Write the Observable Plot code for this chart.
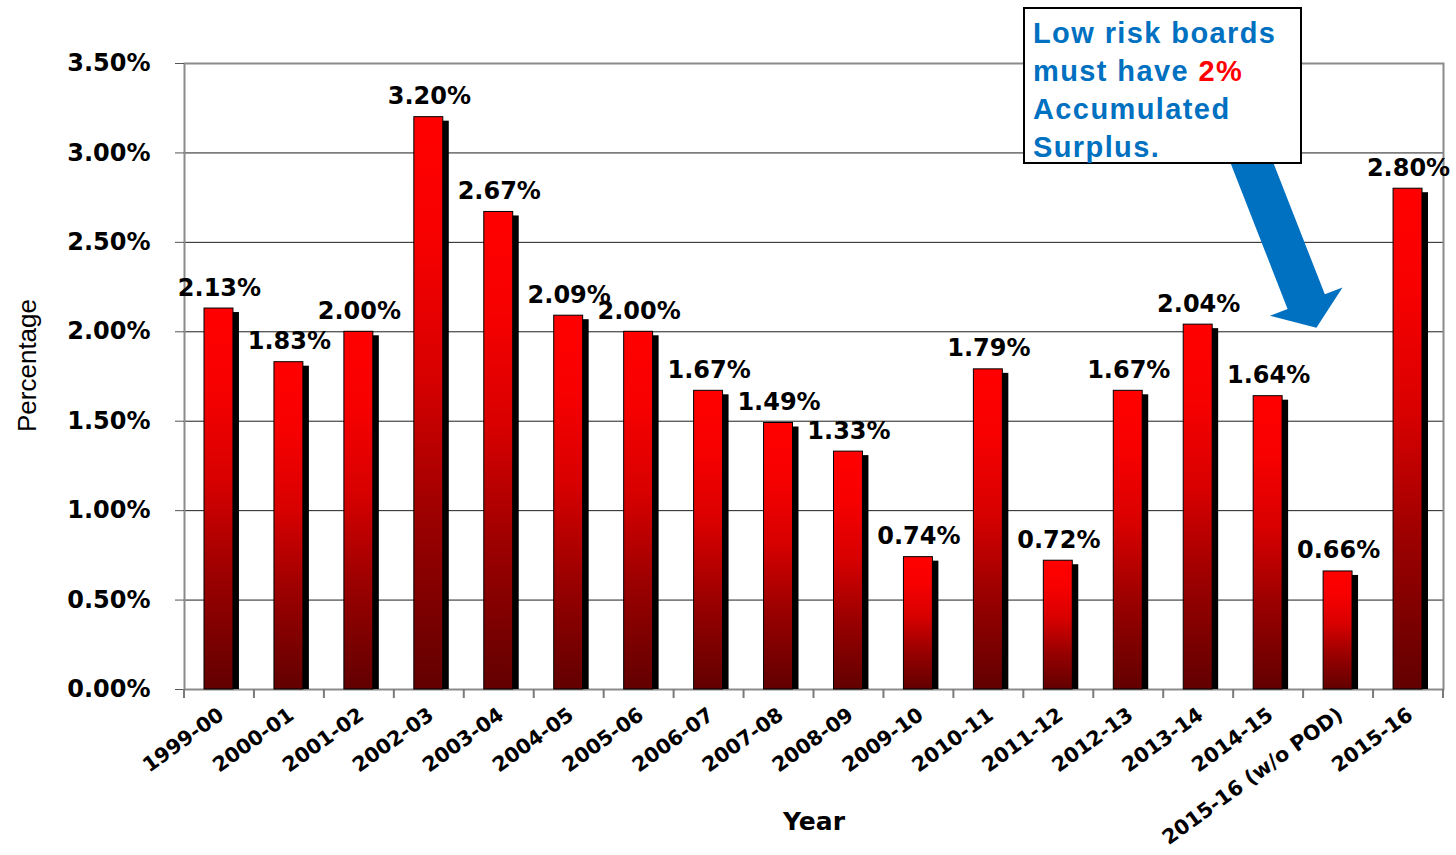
<!DOCTYPE html>
<html>
<head>
<meta charset="utf-8">
<script src="https://cdn.jsdelivr.net/npm/d3@7"></script>
<script src="https://cdn.jsdelivr.net/npm/@observablehq/plot@0.6"></script>
<style>
  body { margin: 0; background: #fff; }
  #wrap { position: relative; width: 1456px; height: 855px; }
  #note {
    position: absolute; left: 1023px; top: 7px; width: 279px; height: 157px;
    box-sizing: border-box; border: 2px solid #000; background: #fff;
    padding: 5px 0 0 8px; white-space: nowrap;
    font: bold 29px "Liberation Sans", Arial, sans-serif; line-height: 38px;
    letter-spacing: 1.4px; color: #0070c0;
  }
  #note .red { color: #ff0000; }
</style>
</head>
<body>
<div id="wrap"></div>
<script>
// ---- data ----
const years = ["1999-00","2000-01","2001-02","2002-03","2003-04","2004-05","2005-06","2006-07",
  "2007-08","2008-09","2009-10","2010-11","2011-12","2012-13","2013-14","2014-15",
  "2015-16 (w/o POD)","2015-16"];
const values = [0.0213,0.0183,0.0200,0.0320,0.0267,0.0209,0.0200,0.0167,
  0.0149,0.0133,0.0074,0.0179,0.0072,0.0167,0.0204,0.0164,0.0066,0.0280];
const yTicks = [0,0.005,0.010,0.015,0.020,0.025,0.030,0.035];
const gridValues = [0.005,0.010,0.015,0.020,0.025,0.030];
const xTitle = "Year";
const yTitle = "Percentage";
const noteLines = ["Low risk boards", "must have ", "2%", "Accumulated", "Surplus."];
// arrow annotation in data terms: band + fraction across band, value
const arrowFrom = {year: "2014-15", frac: 0.16, value: 0.0305};
const arrowTo = {year: "2015-16 (w/o POD)", frac: 0.19, value: 0.0202};

const data = years.map((year, i) => ({year, value: values[i]}));
const pct = d3.format(".2%");
const numFont = "DejaVu Sans, Verdana, sans-serif";

function bandwidthOf(x, dims) {
  if (typeof x.bandwidth === "function") return x.bandwidth();
  if (typeof x.bandwidth === "number") return x.bandwidth;
  return (dims.width - dims.marginLeft - dims.marginRight) / years.length;
}

const gradDefs = () => {
  const defs = d3.create("svg:defs");
  const g = defs.append("linearGradient").attr("id", "barGrad")
    .attr("x1", 0).attr("y1", 0).attr("x2", 0).attr("y2", 1);
  g.append("stop").attr("offset", "0%").attr("stop-color", "#ff0000");
  g.append("stop").attr("offset", "20%").attr("stop-color", "#f80000");
  g.append("stop").attr("offset", "45%").attr("stop-color", "#d80000");
  g.append("stop").attr("offset", "70%").attr("stop-color", "#9c0000");
  g.append("stop").attr("offset", "100%").attr("stop-color", "#620000");
  return defs.node();
};

function boundaryTicks(index, scales, values, dims) {
  const x = scales.x, y = scales.y;
  const bw = bandwidthOf(x, dims);
  const y0 = y(0);
  const g = d3.create("svg:g").attr("stroke", "#7a7a7a").attr("stroke-width", 2);
  const xs = years.map(d => x(d)).concat([x(years[years.length - 1]) + bw]);
  for (const px of xs) g.append("line").attr("x1", px).attr("x2", px).attr("y1", y0).attr("y2", y0 + 9);
  return g.node();
}

function arrowMark(index, scales, values, dims) {
  const x = scales.x, y = scales.y;
  const bw = bandwidthOf(x, dims);
  const p0 = [x(arrowFrom.year) + arrowFrom.frac * bw, y(arrowFrom.value)];
  const p1 = [x(arrowTo.year) + arrowTo.frac * bw, y(arrowTo.value)];
  const dx = p1[0] - p0[0], dy = p1[1] - p0[1], L = Math.hypot(dx, dy);
  const ux = dx / L, uy = dy / L, nx = -uy, ny = ux;
  const headLen = 28, shaft = 40, head = 78;
  const b = [p1[0] - ux * headLen, p1[1] - uy * headLen];
  const off = (p, w) => [p[0] + nx * w, p[1] + ny * w];
  const pts = [off(p0, shaft / 2), off(b, shaft / 2), off(b, head / 2), p1,
               off(b, -head / 2), off(b, -shaft / 2), off(p0, -shaft / 2)];
  return d3.create("svg:path")
    .attr("d", "M" + pts.map(p => p.join(",")).join("L") + "Z")
    .attr("fill", "#0070c0").node();
}

const chart = Plot.plot({
  width: 1456,
  height: 855,
  marginLeft: 184,
  marginRight: 13,
  marginTop: 63,
  marginBottom: 166,
  style: {background: "#fff", color: "#000", fontFamily: numFont},
  x: {type: "band", domain: years, padding: 0, round: false, axis: null},
  y: {domain: [0, 0.035], axis: null},
  marks: [
    gradDefs,
    Plot.ruleY(gridValues, {stroke: "#1e1e1e", strokeWidth: 1}),
    Plot.frame({stroke: "#8a8a8a", strokeWidth: 2}),
    Plot.axisY({ticks: yTicks, tickFormat: pct, tickSize: 9, tickPadding: 25,
      fontSize: 24, fontWeight: "bold", fontFamily: numFont, stroke: "#555", fill: "#000", label: null}),
    boundaryTicks,
    Plot.barY(data, {x: "year", y: "value", fill: "#000", insetLeft: 25, insetRight: 15, insetTop: 4}),
    Plot.barY(data, {x: "year", y: "value", fill: "url(#barGrad)", stroke: "#000", strokeWidth: 1,
      insetLeft: 20, insetRight: 21}),
    Plot.text(data, {x: "year", y: "value", text: d => pct(d.value), dy: -13, lineAnchor: "bottom",
      fontSize: 24, fontWeight: "bold", fontFamily: numFont, fill: "#000"}),
    Plot.text(years, {x: d => d, y: () => 0, text: d => d, rotate: -36, textAnchor: "end",
      lineAnchor: "middle", dx: 2, dy: 23, fontSize: 20.5, fontWeight: "bold", fontFamily: numFont, fill: "#000"}),
    Plot.text([xTitle], {frameAnchor: "bottom", text: d => d, lineAnchor: "bottom", dy: 140,
      fontSize: 25, fontWeight: "bold", fontFamily: numFont, fill: "#000"}),
    Plot.text([yTitle], {frameAnchor: "left", text: d => d, rotate: -90, textAnchor: "middle",
      lineAnchor: "middle", dx: -157, dy: -11,
      fontSize: 26, fontFamily: "Liberation Sans, Arial, sans-serif", fill: "#000"}),
    arrowMark
  ]
});

const wrap = document.getElementById("wrap");
wrap.appendChild(chart);
const note = document.createElement("div");
note.id = "note";
note.innerHTML = `${noteLines[0]}<br>${noteLines[1]}<span class="red">${noteLines[2]}</span><br>${noteLines[3]}<br>${noteLines[4]}`;
wrap.appendChild(note);
</script>
</body>
</html>
